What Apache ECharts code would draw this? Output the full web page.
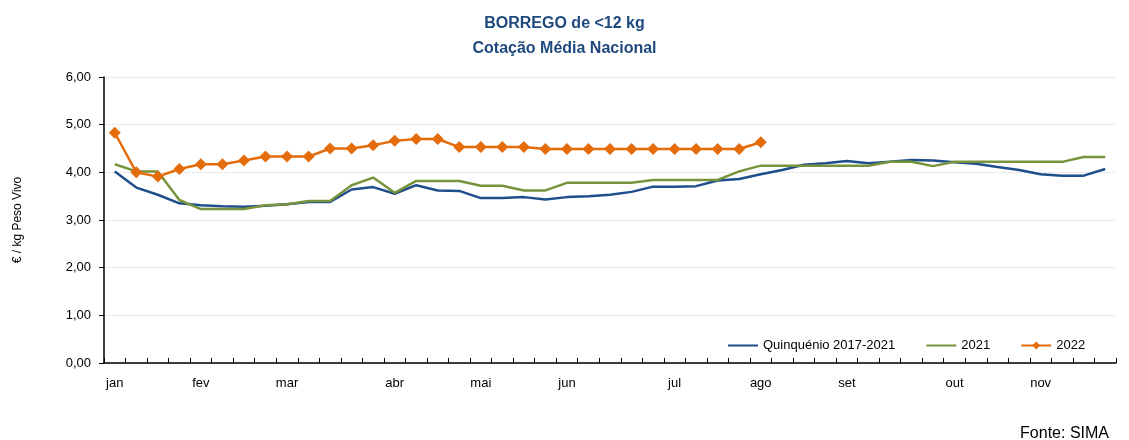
<!DOCTYPE html>
<html>
<head>
<meta charset="utf-8">
<script src="https://cdn.jsdelivr.net/npm/echarts@6/dist/echarts.min.js"></script>
<style>
  html, body { margin: 0; padding: 0; background: #fff; }
  #grafico { width: 1129px; height: 440px; }
</style>
</head>
<body>
<div id="grafico"></div>
<script>
// semanas do ano (47 pontos), só algumas têm o nome do mês
var semanas = ['jan','','','','fev','','','','mar','','','','','abr','','','','mai','','','','jun','','','','','jul','','','','ago','','','','set','','','','','out','','','','nov','','',''];

var quinquenio = [4.02,3.68,3.53,3.35,3.31,3.29,3.28,3.30,3.33,3.38,3.38,3.64,3.69,3.55,3.73,3.62,
                  3.61,3.46,3.46,3.48,3.43,3.48,3.50,3.53,3.59,3.70,3.70,3.71,3.83,3.86,3.96,4.05,
                  4.16,4.19,4.24,4.19,4.22,4.26,4.25,4.21,4.18,4.11,4.05,3.96,3.93,3.93,4.07];

var ano2021 = [4.17,4.02,4.02,3.42,3.23,3.23,3.23,3.31,3.33,3.40,3.40,3.73,3.89,3.57,3.82,3.82,
               3.82,3.72,3.72,3.62,3.62,3.78,3.78,3.78,3.78,3.84,3.84,3.84,3.84,4.02,4.14,4.14,
               4.14,4.14,4.14,4.14,4.22,4.22,4.13,4.22,4.22,4.22,4.22,4.22,4.22,4.32,4.32];

var ano2022 = [4.83,4.00,3.91,4.07,4.17,4.17,4.25,4.33,4.33,4.33,4.50,4.50,4.57,4.66,4.70,4.70,
               4.53,4.53,4.53,4.53,4.49,4.49,4.49,4.49,4.49,4.49,4.49,4.49,4.49,4.49,4.63];

var chartDom = document.getElementById('grafico');
var myChart = echarts.init(chartDom);

var fonte = 'Liberation Sans';

var option = {
    animation: false,
    textStyle: { fontFamily: fonte },
    title: [
        {
            text: 'BORREGO de <12 kg\nCotação Média Nacional',
            left: 'center',
            top: 6,
            textStyle: { color: '#1F497D', fontSize: 16, fontWeight: 'bold', lineHeight: 25, fontFamily: fonte }
        },
        {
            text: 'Fonte: SIMA',
            right: 15,
            top: 421,
            textStyle: { color: '#000', fontSize: 16, fontWeight: 'normal', fontFamily: fonte }
        }
    ],
    legend: {
        left: 722,
        top: 334,
        itemWidth: 30,
        itemHeight: 10,
        itemGap: 30,
        textStyle: { fontSize: 13, color: '#000', fontFamily: fonte },
        data: [
            { name: 'Quinquénio 2017-2021', itemStyle: { opacity: 0 } },
            { name: '2021', itemStyle: { opacity: 0 } },
            { name: '2022' }
        ]
    },
    grid: { left: 104, right: 13, top: 77, bottom: 77 },
    xAxis: {
        type: 'category',
        data: semanas,
        boundaryGap: true,
        axisLine: { lineStyle: { color: '#000', width: 1.5 } },
        axisTick: { show: true, interval: 0, length: 5, inside: true, lineStyle: { color: '#000' } },
        axisLabel: { interval: 0, color: '#000', fontSize: 13, margin: 14 },
        splitLine: { show: false }
    },
    yAxis: {
        type: 'value',
        min: 0,
        max: 6,
        interval: 1,
        name: '€ / kg Peso Vivo',
        nameLocation: 'middle',
        nameGap: 80,
        nameTextStyle: { color: '#000', fontSize: 12 },
        axisLine: { show: true, lineStyle: { color: '#000', width: 1.5 } },
        axisTick: { show: true, length: 5, lineStyle: { color: '#000' } },
        axisLabel: {
            color: '#000',
            fontSize: 13,
            margin: 13,
            formatter: function (v) { return v.toFixed(2).replace('.', ','); }
        },
        splitLine: { show: true, lineStyle: { color: '#d6d6d6', type: 'dotted', width: 1 } }
    },
    series: [
        {
            name: 'Quinquénio 2017-2021',
            type: 'line',
            data: quinquenio,
            symbol: 'none',
            lineStyle: { color: '#1F4E8C', width: 2.5 },
            itemStyle: { color: '#1F4E8C' }
        },
        {
            name: '2021',
            type: 'line',
            data: ano2021,
            symbol: 'none',
            lineStyle: { color: '#77933C', width: 2.5 },
            itemStyle: { color: '#77933C' }
        },
        {
            name: '2022',
            type: 'line',
            data: ano2022,
            symbol: 'diamond',
            symbolSize: 12,
            lineStyle: { color: '#E46C0A', width: 2.5 },
            itemStyle: { color: '#E46C0A' }
        }
    ]
};

myChart.setOption(option);

window.addEventListener('resize', function () {
    myChart.resize();
});
</script>
</body>
</html>
